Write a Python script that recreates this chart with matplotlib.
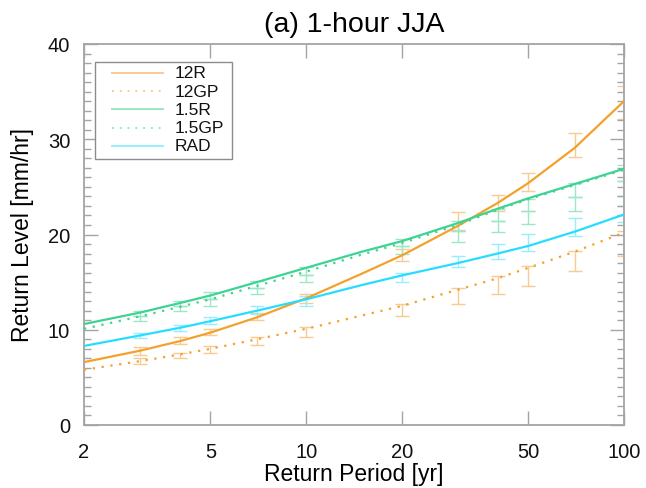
import matplotlib
matplotlib.use("Agg")
import matplotlib.pyplot as plt
from matplotlib.patches import Rectangle
from matplotlib.ticker import FixedLocator, MultipleLocator, NullLocator

plt.rcParams['font.family'] = ['Liberation Sans', 'DejaVu Sans']

# Return periods [yr] at which the fitted curves are tabulated
periods = [2, 3, 4, 5, 7, 10, 15, 20, 30, 40, 50, 70, 100]

# Fitted return levels [mm/hr]
level_12r = [6.6, 7.8, 8.8, 9.7, 11.3, 13.3, 15.9, 17.8, 20.9, 23.3, 25.4, 29.1, 34.0]
level_12gp = [5.8, 6.7, 7.4, 8.0, 9.0, 10.1, 11.5, 12.5, 14.2, 15.4, 16.5, 18.2, 20.2]
level_15r = [10.6, 11.8, 12.8, 13.6, 15.0, 16.5, 18.2, 19.3, 21.2, 22.7, 23.8, 25.3, 26.9]
level_15gp = [10.1, 11.4, 12.4, 13.2, 14.6, 16.1, 17.9, 19.1, 21.0, 22.6, 23.7, 25.2, 26.8]
level_rad = [8.3, 9.4, 10.2, 10.9, 12.0, 13.2, 14.7, 15.7, 17.0, 18.0, 18.8, 20.3, 22.1]

# Return periods with uncertainty ranges
bar_periods = [3, 4, 5, 7, 10, 20, 30, 40, 50, 70, 100]

# Uncertainty ranges (low, high) [mm/hr]
bars_12r_lo = [7.4, 8.5, 9.4, 11.0, 12.8, 17.2, 20.5, 22.5, 24.6, 28.1, 32.1]
bars_12r_hi = [8.2, 9.2, 10.1, 11.8, 13.8, 18.5, 22.4, 24.1, 26.5, 30.7, 35.6]
bars_12gp_lo = [6.4, 7.0, 7.6, 8.4, 9.2, 11.4, 12.7, 13.8, 14.6, 16.2, 17.7]
bars_12gp_hi = [7.0, 7.6, 8.3, 9.2, 10.3, 12.7, 14.4, 15.6, 16.7, 18.3, 20.4]
bars_15r_lo = [11.4, 12.5, 13.2, 14.4, 15.8, 18.8, 20.4, 21.4, 22.5, 23.9, 25.6]
bars_15r_hi = [12.0, 13.0, 14.0, 15.1, 16.6, 19.5, 21.4, 22.7, 23.7, 25.4, 27.3]
bars_15gp_lo = [10.9, 12.0, 12.5, 13.8, 15.0, 18.0, 19.2, 20.3, 21.1, 22.5, 24.0]
bars_15gp_hi = [11.4, 12.5, 13.2, 14.4, 15.8, 18.8, 20.4, 21.4, 22.5, 23.9, 25.6]
bars_rad_lo = [9.1, 9.9, 10.6, 11.7, 12.5, 15.0, 16.6, 17.4, 18.3, 19.8, 21.3]
bars_rad_hi = [9.7, 10.5, 11.3, 12.5, 13.5, 16.0, 17.7, 19.0, 20.1, 21.7, 23.0]

labels = ['12R', '12GP', '1.5R', '1.5GP', 'RAD']
x_ticks = [2, 5, 10, 20, 50, 100]

orange = '#F4A12C'
green = '#3ED392'
cyan = '#26DCFF'
orange_l = '#F8CB92'
green_l = '#9AE8C5'
cyan_l = '#96EFFF'

W, H = 646, 489
AX_L, AX_R, AX_T, AX_B = 84, 624, 45, 426

fig = plt.figure(figsize=(W / 100, H / 100), dpi=100)
ax = fig.add_axes([AX_L / W, 1 - AX_B / H, (AX_R - AX_L) / W, (AX_B - AX_T) / H])


def draw_bars(lo, hi, color):
    mid = [(a + b) / 2 for a, b in zip(lo, hi)]
    err = [[m - a for m, a in zip(mid, lo)], [b - m for m, b in zip(mid, hi)]]
    ax.errorbar(bar_periods, mid, yerr=err, fmt='none', ecolor=color,
                elinewidth=1.0, capsize=5, capthick=1.0, zorder=1)


draw_bars(bars_12r_lo, bars_12r_hi, orange_l)
draw_bars(bars_12gp_lo, bars_12gp_hi, orange_l)
draw_bars(bars_15r_lo, bars_15r_hi, green_l)
draw_bars(bars_15gp_lo, bars_15gp_hi, green_l)
draw_bars(bars_rad_lo, bars_rad_hi, cyan_l)

dots = (0, (1, 3))
ax.plot(periods, level_12r, color=orange, lw=1.6, zorder=3)
ax.plot(periods, level_12gp, color=orange, lw=1.6, ls=dots, zorder=3)
ax.plot(periods, level_15r, color=green, lw=1.6, zorder=3)
ax.plot(periods, level_15gp, color=green, lw=1.6, ls=dots, zorder=3)
ax.plot(periods, level_rad, color=cyan, lw=1.6, zorder=3)

ax.set_xscale('log')
ax.set_xlim(2, 100)
ax.set_ylim(0, 40)
ax.xaxis.set_major_locator(FixedLocator(x_ticks))
ax.xaxis.set_minor_locator(NullLocator())
ax.set_xticklabels([str(t) for t in x_ticks])
ax.yaxis.set_major_locator(MultipleLocator(10))
ax.yaxis.set_minor_locator(MultipleLocator(1))

spine_c = '#A4A4A4'
for s in ax.spines.values():
    s.set_color(spine_c)
    s.set_linewidth(1.3)
ax.tick_params(which='both', direction='in', top=True, right=True,
               color=spine_c, labelsize=14.5, labelcolor='#111111')
ax.tick_params(which='major', length=10, width=1.0)
ax.tick_params(axis='x', which='major', pad=12)
ax.tick_params(axis='y', which='major', pad=10)
ax.tick_params(which='minor', length=5, width=1.0)

ax.set_xlabel('Return Period [yr]', fontsize=16.5, labelpad=1)
ax.set_ylabel('Return Level [mm/hr]', fontsize=16.5, labelpad=10)
ax.set_title('(a) 1-hour JJA', fontsize=20.5, pad=9)

# Legend box drawn in pixel positions converted to axes fractions
def ax_frac(px, py):
    return (px - AX_L) / (AX_R - AX_L), (AX_B - py) / (AX_B - AX_T)


x0, y0 = ax_frac(95, 160)
x1, y1 = ax_frac(232, 63)
ax.add_patch(Rectangle((x0, y0), x1 - x0, y1 - y0, transform=ax.transAxes,
                       facecolor='white', edgecolor='#8C8C8C', lw=1.0,
                       zorder=5, clip_on=False))
legend_styles = [
    (orange_l, '-'), (orange_l, dots), (green_l, '-'), (green_l, dots), (cyan_l, '-'),
]
for i, (lab, (col, ls)) in enumerate(zip(labels, legend_styles)):
    row_y = 74 + i * 18.2
    hx0, hy = ax_frac(112, row_y)
    hx1, _ = ax_frac(163, row_y)
    tx, _ = ax_frac(175, row_y)
    ax.plot([hx0, hx1], [hy, hy], color=col, lw=1.4, ls=ls,
            transform=ax.transAxes, zorder=6, clip_on=False)
    ax.text(tx, hy, lab, transform=ax.transAxes, fontsize=12.5,
            va='center', ha='left', color='#111111', zorder=6)

fig.savefig('out.png', dpi=100)
